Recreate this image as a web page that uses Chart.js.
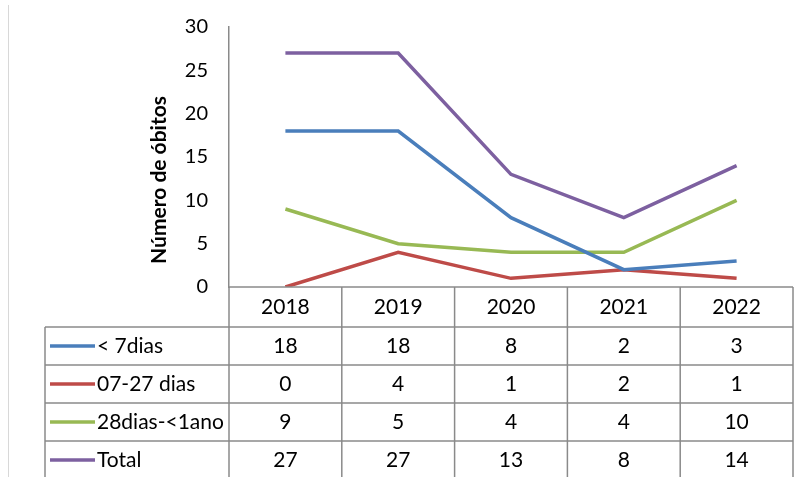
<!DOCTYPE html>
<html>
<head>
<meta charset="utf-8">
<script src="https://cdn.jsdelivr.net/npm/chart.js@4"></script>
<style>
  html, body { margin: 0; padding: 0; background: #fff; }
  #wrap { width: 801px; height: 477px; }
</style>
</head>
<body>
<div id="wrap"><canvas id="obitos"></canvas></div>
<script>
const years = ["2018", "2019", "2020", "2021", "2022"];
const seriesNames = ["< 7dias", "07-27 dias", "28dias-<1ano", "Total"];
const menos7 = [18, 18, 8, 2, 3];
const de7a27 = [0, 4, 1, 2, 1];
const de28a1ano = [9, 5, 4, 4, 10];
const total = [27, 27, 13, 8, 14];
const yTicks = [0, 5, 10, 15, 20, 25, 30];
const yTitle = "Número de óbitos";

const seriesValues = [menos7, de7a27, de28a1ano, total];
const seriesColors = ["#4a7ebb", "#be4b48", "#98b954", "#7d60a0"];

const fontFamily = "Lato, 'Open Sans', sans-serif";
const gridColor = "#8a8a8a";

// table under the plot, columns follow the x scale
const dataTable = {
  id: "dataTable",
  afterDraw(chart) {
    const ctx = chart.ctx;
    const x = chart.scales.x;
    const area = chart.chartArea;
    const colW = x.getPixelForValue(1) - x.getPixelForValue(0);
    const tableLeft = 45;
    const headerTop = area.bottom;
    const headerH = 40;
    const rowH = 38;
    const rowsTop = headerTop + headerH;
    const bottom = rowsTop + rowH * seriesNames.length + 2;

    ctx.save();
    ctx.strokeStyle = gridColor;
    ctx.lineWidth = 1.5;
    ctx.beginPath();
    ctx.moveTo(area.left, headerTop);
    ctx.lineTo(area.right, headerTop);
    for (let i = 0; i < seriesNames.length; i++) {
      const yy = rowsTop + rowH * i;
      ctx.moveTo(tableLeft, yy);
      ctx.lineTo(area.right, yy);
    }
    ctx.moveTo(tableLeft, rowsTop);
    ctx.lineTo(tableLeft, bottom);
    for (let i = 0; i <= years.length; i++) {
      const xx = x.getPixelForValue(i) - colW / 2;
      ctx.moveTo(xx, headerTop);
      ctx.lineTo(xx, bottom);
    }
    ctx.stroke();

    ctx.fillStyle = "#000";
    ctx.font = "21px " + fontFamily;
    ctx.textBaseline = "middle";
    ctx.textAlign = "center";
    years.forEach((yr, i) => {
      ctx.fillText(yr, x.getPixelForValue(i), headerTop + headerH / 2);
    });

    seriesNames.forEach((name, r) => {
      const cy = rowsTop + rowH * r + rowH / 2;
      ctx.strokeStyle = seriesColors[r];
      ctx.lineWidth = 3.5;
      ctx.beginPath();
      ctx.moveTo(50, cy);
      ctx.lineTo(95, cy);
      ctx.stroke();
      ctx.textAlign = "left";
      ctx.fillText(name, 97, cy);
      ctx.textAlign = "center";
      seriesValues[r].forEach((v, i) => {
        ctx.fillText(String(v), x.getPixelForValue(i), cy);
      });
    });

    // y title sits a bit lower than the axis middle in the original
    ctx.save();
    ctx.translate(159, 180);
    ctx.rotate(-Math.PI / 2);
    ctx.font = "bold 21px " + fontFamily;
    ctx.fillText(yTitle, 0, 0);
    ctx.restore();

    // faint frame of the original picture
    ctx.strokeStyle = "#d8d8d8";
    ctx.lineWidth = 1;
    ctx.beginPath();
    ctx.moveTo(8.5, 5);
    ctx.lineTo(8.5, 477);
    ctx.stroke();
    ctx.restore();
  }
};

new Chart(document.getElementById("obitos"), {
  type: "line",
  data: {
    labels: years,
    datasets: seriesNames.map((name, i) => ({
      label: name,
      data: seriesValues[i],
      borderColor: seriesColors[i],
      backgroundColor: seriesColors[i],
      borderWidth: 3.5,
      pointRadius: 0,
      tension: 0,
      fill: false
    }))
  },
  options: {
    responsive: true,
    maintainAspectRatio: false,
    animation: false,
    layout: { padding: { left: 142, right: 8, top: 27, bottom: 190 } },
    plugins: {
      legend: { display: false },
      tooltip: { enabled: false }
    },
    scales: {
      x: {
        type: "category",
        offset: true,
        display: false
      },
      y: {
        min: 0,
        max: 30,
        afterFit(scale) { scale.width = 87; },
        afterBuildTicks(scale) { scale.ticks = yTicks.map(v => ({ value: v })); },
        grid: { display: false },
        border: { display: true, color: gridColor, width: 1.5 },
        ticks: {
          color: "#000",
          padding: 13,
          font: { family: fontFamily, size: 20 }
        },
        title: { display: false }
      }
    }
  },
  plugins: [dataTable]
});
</script>
</body>
</html>
